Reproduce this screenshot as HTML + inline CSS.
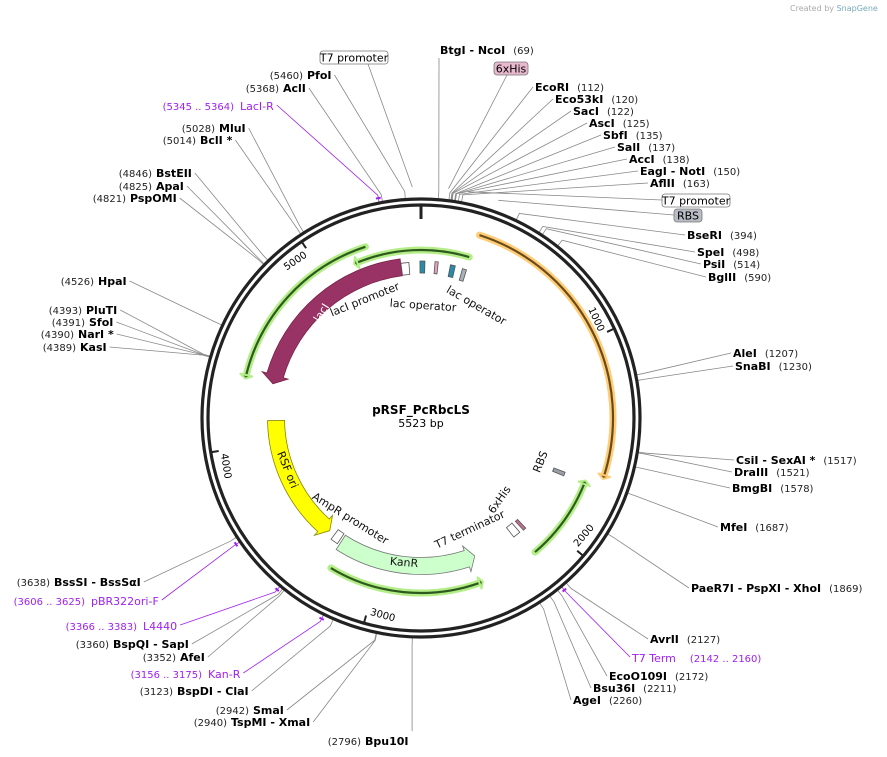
<!DOCTYPE html>
<html><head><meta charset="utf-8">
<style>
html,body{margin:0;padding:0;background:#fff;}
svg{display:block;font-family:"DejaVu Sans","Liberation Sans",sans-serif;}
.nm{font-weight:bold;font-size:11px;fill:#000;}
.num{font-size:10px;fill:#222;}
.pnm{font-size:11px;fill:#a020f0;}
.pnum{font-size:10px;fill:#a020f0;}
.flab{font-size:11px;fill:#111;}
</style></head>
<body>
<svg id="map" width="887" height="757" viewBox="0 0 887 757" xmlns="http://www.w3.org/2000/svg">
<text x="790" y="11" font-size="8" fill="#aaa">Created by <tspan fill="#7ab">SnapGene</tspan></text>
<g id="leaders"></g>
<g id="ring"></g>
<g id="features"></g>
<g id="labels"></g>
<text x="421" y="414" text-anchor="middle" font-size="12" font-weight="bold">pRSF_PcRbcLS</text>
<text x="421" y="427" text-anchor="middle" font-size="11">5523 bp</text>
</svg>
<script>
const TOTAL = 5523;
// enzyme sites
const siteNames = ["BtgI - NcoI","EcoRI","Eco53kI","SacI","AscI","SbfI","SalI","AccI","EagI - NotI","AflII","BseRI","SpeI","PsiI","BglII","AleI","SnaBI","CsiI - SexAI *","DraIII","BmgBI","MfeI","PaeR7I - PspXI - XhoI","AvrII","EcoO109I","Bsu36I","AgeI","Bpu10I","TspMI - XmaI","SmaI","BspDI - ClaI","AfeI","BspQI - SapI","BssSI - BssSαI","KasI","NarI *","SfoI","PluTI","HpaI","PspOMI","ApaI","BstEII","BclI *","MluI","AclI","PfoI"];
const sitePositions = [69,112,120,122,125,135,137,138,150,163,394,498,514,590,1207,1230,1517,1521,1578,1687,1869,2127,2172,2211,2260,2796,2940,2942,3123,3352,3360,3638,4389,4390,4391,4393,4526,4821,4825,4846,5014,5028,5368,5460];
// label layout (text x, baseline y, side)
const siteLayout = [[440,54,"R"],[535,91,"R"],[555,103,"R"],[573,115,"R"],[589,127,"R"],[603,139,"R"],[617,151,"R"],[629,163,"R"],[640,175,"R"],[650,187,"R"],[687,239,"R"],[697,256,"R"],[703,268,"R"],[708,281,"R"],[733,357,"R"],[735,370,"R"],[736,464,"R"],[734,476,"R"],[732,492,"R"],[720,531,"R"],[691,592,"R"],[650,643,"R"],[609,680,"R"],[593,692,"R"],[573,704,"R"],[365,745,"L"],[231,726,"L"],[253,714,"L"],[177,695,"L"],[180,661,"L"],[113,648,"L"],[54,586,"L"],[80,351,"L"],[78,338,"L"],[89,326,"L"],[86,314,"L"],[98,285,"L"],[130,202,"L"],[156,190,"L"],[156,177,"L"],[200,144,"L"],[219,132,"L"],[283,92,"L"],[307,79,"L"]];
// primers
const primerNames = ["LacI-R","pBR322ori-F","L4440","Kan-R","T7 Term"];
const primerStarts = [5345,3606,3366,3156,2142];
const primerEnds = [5364,3625,3383,3175,2160];
const primerLayout = [[240,110,"L"],[91,605,"L"],[143,630,"L"],[208,678,"L"],[632,662,"R"]];
// boxed feature labels outside
const boxNames = ["T7 promoter","6xHis","T7 promoter","RBS"];
const boxPositions = [5490,105,180,300];
const boxLayout = [[320,51,68,"#fff"],[494,62,34,"#e8b8cc"],[662,194,68,"#fff"],[674,209,28,"#b8bcc4"]];
// features: start, end, radius
const featNames = ["orange-arc","green-top","green-left","lacI","RSF ori","KanR","green-bottom","green-right"];
const featStarts = [272,256,5247,5408,4127,3265,3237,2142];
const featEnds = [1665,-360,4336,4342,3360,2435,2444,1700];
const featRadius = [192,168,180,152,145,148,175,176];
const tickPositions = [1000,2000,3000,4000,5000];
const tickLabels = ["1000","2000","3000","4000","5000"];

const CX=421, CY=418, R1=219, R2=213;
const NS="http://www.w3.org/2000/svg";
function ang(p){return p/TOTAL*2*Math.PI;}
function pt(r,p){const a=ang(p);return [CX+r*Math.sin(a),CY-r*Math.cos(a)];}
function mk(tag,attrs,parent){const e=document.createElementNS(NS,tag);for(const k in attrs)e.setAttribute(k,attrs[k]);parent.appendChild(e);return e;}
function arcPath(r,p1,p2){const a=pt(r,p1),b=pt(r,p2);const large=Math.abs(p2-p1)/TOTAL>0.5?1:0;const sweep=p2>p1?1:0;return `M${a[0]} ${a[1]} A${r} ${r} 0 ${large} ${sweep} ${b[0]} ${b[1]}`;}
const ring=document.getElementById('ring'),feats=document.getElementById('features'),labs=document.getElementById('labels'),lead=document.getElementById('leaders');

// ring
let c1=mk('circle',{cx:CX,cy:CY,r:R1,fill:'none',stroke:'#222','stroke-width':3.2},ring);


let c2=mk('circle',{cx:CX,cy:CY,r:R2,fill:'none',stroke:'#222','stroke-width':3.2},ring);


let t0a=pt(R2-1,0),t0b=pt(R2-14,0);
let t0=mk('line',{x1:t0a[0],y1:t0a[1],x2:t0b[0],y2:t0b[1],stroke:'#222','stroke-width':3},ring);


tickPositions.forEach((p,i)=>{
  const a=pt(R2-1,p),b=pt(R2-8,p);
  const l=mk('line',{x1:a[0],y1:a[1],x2:b[0],y2:b[1],stroke:'#222','stroke-width':2},ring);
  
  
  const d=ang(p)*180/Math.PI; const q=pt(R2-12,p-70);
  let rot=(d<90||d>270)?d:d-180;
  const t=mk('text',{x:q[0],y:q[1],'font-size':10,'text-anchor':'middle','dominant-baseline':'middle',transform:`rotate(${rot} ${q[0]} ${q[1]})`},ring);
  t.textContent=tickLabels[i];
  
  
});

// thin arcs with halo
function thinArc(i,color,halo){
  const p1=featStarts[i],p2=featEnds[i],r=featRadius[i];
  const g=mk('g',{},feats);
  
  
  const dir=p2>p1?1:-1, endTrim=p2-dir*18;
  mk('path',{d:arcPath(r,p1,endTrim),fill:'none',stroke:halo,'stroke-width':7,'stroke-linecap':'round'},g);
  mk('path',{d:arcPath(r,p1,endTrim),fill:'none',stroke:color,'stroke-width':2.2},g);
  const tip=pt(r,p2),b1=pt(r+6,endTrim),b2=pt(r-6,endTrim);
  mk('polygon',{points:`${tip} ${b1} ${b2}`,fill:color,stroke:halo,'stroke-width':2,'stroke-linejoin':'round'},g);
}
thinArc(0,'#6b4a1a','#ffcc77');
thinArc(1,'#2e5a1e','#b4ee88');
thinArc(2,'#2e5a1e','#b4ee88');
thinArc(6,'#2e5a1e','#b4ee88');
thinArc(7,'#2e5a1e','#b4ee88');

// thick arrows
function bandArrow(i,fill,stroke,w){
  const p1=featStarts[i],p2=featEnds[i],r=featRadius[i];
  const dir=p2>p1?1:-1, head=p2-dir*50;
  const o1=pt(r+w/2,p1),o2=pt(r+w/2,head),i2=pt(r-w/2,head),i1=pt(r-w/2,p1);
  const h1=pt(r+w/2+5,head),h2=pt(r-w/2-5,head),tip=pt(r,p2);
  const sw=dir>0?1:0, large=Math.abs(head-p1)/TOTAL>0.5?1:0;
  const d=`M${o1} A${r+w/2} ${r+w/2} 0 ${large} ${sw} ${o2} L${h1} L${tip} L${h2} L${i2} A${r-w/2} ${r-w/2} 0 ${large} ${1-sw} ${i1} Z`;
  const g=mk('g',{},feats);
  
  
  mk('path',{d:d,fill:fill,stroke:stroke,'stroke-width':0.8},g);
}
bandArrow(3,'#993366','#772244',17);
bandArrow(4,'#ffff00','#888800',17);
bandArrow(5,'#ccffcc','#777',17);

// small features
const smallNames=["lacI-promoter","lac-operator-1","6xHis-top","lac-operator-2","rbs-top","AmpR-promoter","T7-terminator","6xHis-bottom","RBS-bottom"];
const smallPos=[5432,8,88,181,250,3300,2157,2102,1708];
const smallCols=["#fff","#2a8aa8","#e8a0c0","#2a8aa8","#aab0b8","#fff","#fff","#c07090","#9aa0a8"];
const smallLen=[45,28,18,28,24,45,45,18,22];
const smallR=[150,151,151,150,149,145,145,146,148];
smallNames.forEach((n,i)=>{
  const p=smallPos[i],r=smallR[i],l=smallLen[i];
  const a=pt(r+6,p-l/2),b=pt(r+6,p+l/2),c=pt(r-6,p+l/2),d=pt(r-6,p-l/2);
  const g=mk('polygon',{points:`${a} ${b} ${c} ${d}`,fill:smallCols[i],stroke:'#555','stroke-width':0.8},feats);
  
  
});

// feature text labels
const ftext=[["lacI",322,313,-58,"#fff"],["lacI promoter",365,300,-22,"#111"],["lac operator",423,306,4,"#111"],["lac operator",476,306,30,"#111"],["RSF ori",287,470,68,"#111"],["AmpR promoter",350,519,32,"#111"],["KanR",404,563,5,"#111"],["T7 terminator",470,530,-25,"#111"],["6xHis",500,500,-55,"#111"],["RBS",541,462,-68,"#111"]];
ftext.forEach(f=>{
  const t=mk('text',{x:f[1],y:f[2],class:'flab','text-anchor':'middle','dominant-baseline':'middle',transform:`rotate(${f[3]} ${f[1]} ${f[2]})`},labs);
  t.style.fill=f[4];
  t.textContent=f[0];
  
  
});

function leader(ax,ay,p,color,parent){
  const k=pt(R1+8,p),e=pt(R1+1,p);
  mk('polyline',{points:`${ax},${ay} ${k} ${e}`,fill:'none',stroke:color,'stroke-width':0.8},parent);
}

// enzyme labels
siteNames.forEach((n,i)=>{
  const [x,y,side]=siteLayout[i];const p=sitePositions[i];
  const g=mk('g',{},labs);
  
  
  let ax,ay=y-4;
  if(side==="R"){
    const t=mk('text',{x:x,y:y,class:'nm'},g);t.textContent=n+'  ';
    const w=t.getComputedTextLength();
    const t2=mk('text',{x:x+w+8,y:y,class:'num'},g);t2.textContent='('+p+')';
    ax=x-2;
    if(i===0){ax=x-1;ay=y+4;}
  } else {
    const t2=mk('text',{x:x-4,y:y,class:'num','text-anchor':'end'},g);t2.textContent='('+p+')';
    const t=mk('text',{x:x,y:y,class:'nm'},g);t.textContent=n;
    ax=x+t.getComputedTextLength()+3;
    if(i===25){ax=pt(R1+8,p)[0];ay=y-14;}
  }
  leader(ax,ay,p,'#888',lead);
});

// primers
primerNames.forEach((n,i)=>{
  const [x,y,side]=primerLayout[i];const ps=primerStarts[i],pe=primerEnds[i];
  const g=mk('g',{},labs);
  
  
  const rng='('+ps+' .. '+pe+')';
  let ax;
  if(side==="L"){
    const t2=mk('text',{x:x-6,y:y,class:'pnum','text-anchor':'end'},g);t2.textContent=rng;
    const t=mk('text',{x:x,y:y,class:'pnm'},g);t.textContent=n;
    ax=x+t.getComputedTextLength()+3;
  } else {
    const t=mk('text',{x:x,y:y,class:'pnm'},g);t.textContent=n;
    const t2=mk('text',{x:x+t.getComputedTextLength()+14,y:y,class:'pnum'},g);t2.textContent=rng;
    ax=x-2;
  }
  const mid=(ps+pe)/2;
  leader(ax,y-5,mid,'#a020f0',lead);
  mk('path',{d:arcPath(R1+5,ps,pe),fill:'none',stroke:'#a020f0','stroke-width':2},g);
});

// boxed labels
boxNames.forEach((n,i)=>{
  const [x,y,w,f]=boxLayout[i];
  const g=mk('g',{},labs);
  
  
  mk('rect',{x:x,y:y,width:w,height:13,rx:3,fill:f,stroke:'#777','stroke-width':0.8},g);
  const t=mk('text',{x:x+w/2,y:y+10.5,'font-size':11,'text-anchor':'middle'},g);t.textContent=n;
  const ax=i<2?x+w/2+(i===1?-4:14):x, ay=i<2?y+13:y+6;
  const k=pt(R1+12,boxPositions[i]);
  mk('polyline',{points:`${ax},${ay} ${k}`,fill:'none',stroke:'#888','stroke-width':0.8},lead);
});
</script>
</body></html>
